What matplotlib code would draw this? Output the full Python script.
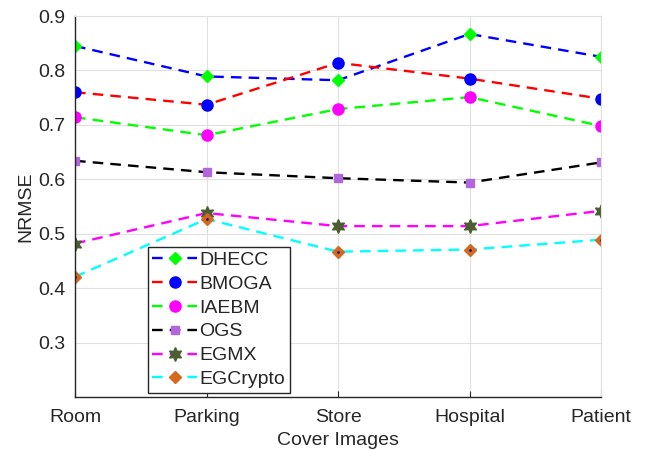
import matplotlib.pyplot as plt
import numpy as np

plt.rcParams['font.family'] = ['Liberation Sans', 'DejaVu Sans']

images = ['Room', 'Parking', 'Store', 'Hospital', 'Patient']
dhecc = [0.845, 0.789, 0.782, 0.867, 0.825]
bmoga = [0.760, 0.737, 0.814, 0.785, 0.748]
iaebm = [0.714, 0.681, 0.729, 0.751, 0.698]
ogs = [0.634, 0.613, 0.602, 0.594, 0.631]
egmx = [0.482, 0.538, 0.514, 0.514, 0.542]
egcrypto = [0.421, 0.527, 0.467, 0.471, 0.489]

txt = '#262626'
x = np.arange(1, len(images) + 1)

fig = plt.figure(figsize=(6.49, 4.5), dpi=100)
ax = fig.add_axes([0.1156, 0.1178, 0.8105, 0.8466])

ls = (0, (4.5, 3))
lw = 1.7
star6 = (6, 1, 0)
ax.plot(x, dhecc, color='b', ls=ls, lw=lw, marker='D', ms=6.5, mfc='#00ff00', mec='#00ff00', label='DHECC')
ax.plot(x, bmoga, color='r', ls=ls, lw=lw, marker='o', ms=8, mfc='b', mec='b', label='BMOGA')
ax.plot(x, iaebm, color='#00ff00', ls=ls, lw=lw, marker='o', ms=8, mfc='#ff00ff', mec='#ff00ff', label='IAEBM')
ax.plot(x, ogs, color='k', ls=ls, lw=lw, marker='s', ms=6, mfc='#b266dd', mec='#b266dd', label='OGS')
ax.plot(x, egmx, color='#ff00ff', ls=ls, lw=lw, marker=star6, ms=10, mfc='#4a5e30', mec='#4a5e30', label='EGMX')
ax.plot(x, egcrypto, color='#00ffff', ls=ls, lw=lw, marker='D', ms=6.5, mfc='#d2691e', mec='#d2691e', label='EGCrypto')
ax.plot(x, egcrypto, ls='none', marker='.', ms=2, color='#1a1a80')

ax.set_xlim(1, 5)
ax.set_ylim(0.2, 0.9)
ax.set_xticks(x)
ax.set_xticklabels(images)
ax.set_yticks([0.3, 0.4, 0.5, 0.6, 0.7, 0.8, 0.9])
ax.set_yticklabels(['0.3', '0.4', '0.5', '0.6', '0.7', '0.8', '0.9'])
ax.grid(True, color='#e0e0e0', lw=0.8)
ax.set_axisbelow(True)
ax.tick_params(labelsize=14, colors=txt, length=4, direction='in', pad=9)
ax.tick_params(axis='y', length=0, pad=7)
for s in ['top', 'right']:
    ax.spines[s].set_color('#e0e0e0')
for s in ['left', 'bottom']:
    ax.spines[s].set_color(txt)
    ax.spines[s].set_linewidth(1.0)

ax.set_xlabel('Cover Images', fontsize=14, color=txt, labelpad=4)
ax.set_ylabel('NRMSE', fontsize=14, color=txt, labelpad=3)

leg = ax.legend(loc='upper left', bbox_to_anchor=(0.138, 0.395), fontsize=14,
                frameon=True, fancybox=False, edgecolor=txt, framealpha=1,
                borderpad=0.25, labelspacing=0.32, handlelength=2.3, handletextpad=0.1,
                borderaxespad=0)
leg.get_frame().set_linewidth(1.0)
for t in leg.get_texts():
    t.set_color(txt)

fig.savefig('out.png', dpi=100)
